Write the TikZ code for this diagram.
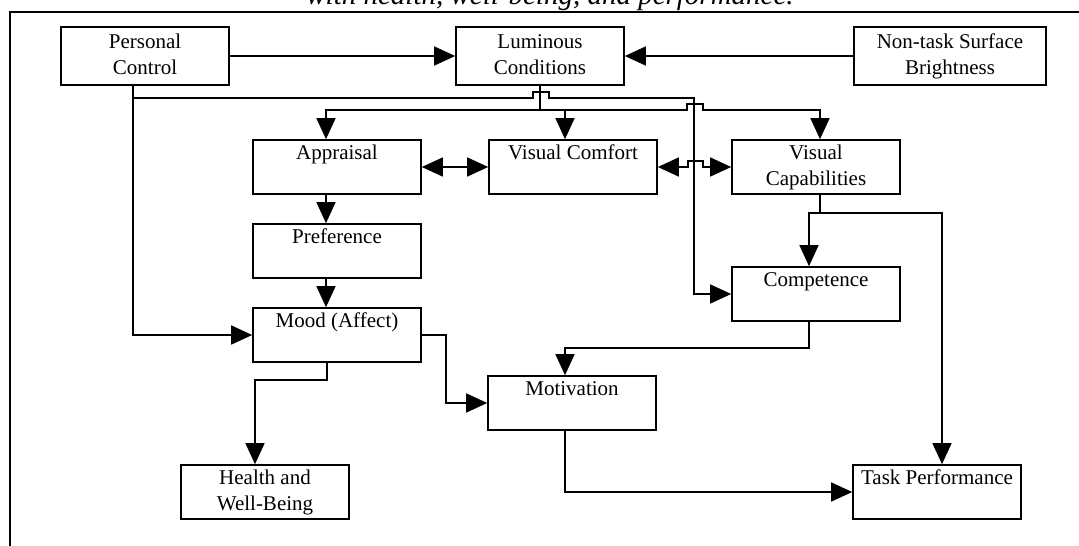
\documentclass[tikz,border=0pt]{standalone}
\usepackage{fontspec}
\setmainfont{Liberation Serif}
\usetikzlibrary{arrows.meta}

\tikzset{
  >={Triangle[length=21pt,width=19pt]},
  factor/.style={draw,line width=1.6pt,minimum width=168pt,minimum height=54pt,inner sep=1pt,
    align=center,font=\fontsize{21}{26}\selectfont,
    execute at begin node=\rule{0pt}{22pt},execute at end node=\rule[-3.8pt]{0pt}{3.8pt}},
  link/.style={line width=1.4pt}
}

\begin{document}
\begin{tikzpicture}[x=1pt,y=-1pt]
\useasboundingbox (0,0) rectangle (1079,546);
\node[font=\fontsize{29}{34}\selectfont\itshape,anchor=base] (caption) at (550,5) {with health, well-being, and performance.};
\draw[line width=2.2pt] (10,546) -- (10,12) -- (1079,12);

% factors
\node[factor,minimum height=58pt] (pc) at (145,56) {Personal\\Control};
\node[factor,minimum height=58pt] (lum) at (540,56) {Luminous\\Conditions};
\node[factor,minimum height=58pt,minimum width=192pt] (nt) at (950,56) {Non-task Surface\\Brightness};
\node[factor] (app) at (337,167) {Appraisal\\};
\node[factor] (vc) at (573,167) {Visual Comfort\\};
\node[factor] (vcap) at (816,167) {Visual\\Capabilities};
\node[factor] (pref) at (337,251) {Preference\\};
\node[factor] (mood) at (337,335) {Mood (Affect)\\};
\node[factor] (comp) at (816,294) {Competence\\};
\node[factor] (mot) at (572,403) {Motivation\\};
\node[factor] (health) at (265,492) {Health and\\Well-Being};
\node[factor] (task) at (937,492) {Task Performance\\};

\draw[link,->] (pc) -- (lum);
\draw[link,->] (nt) -- (lum);

% personal control branches
\draw[link,->] ([xshift=-12pt]pc.south) |- (mood.west);
\coordinate (pcj) at (133,98);
\draw[link,->] (pcj) -- (533,98) -- (533,92) -- (549,92) -- (549,98) -- (694,98) |- (comp.west);

% luminous conditions branches
\draw[link] (lum.south) -- (lum.south |- 0,110) coordinate (lumj);
\draw[link,->] (lumj) -| ([xshift=-11pt]app.north);
\draw[link,->] (lumj) -| ([xshift=-8pt]vc.north);
\draw[link,->] (lumj) -- (687,110) -- (687,104) -- (703,104) -- (703,110) -| ([xshift=4pt]vcap.north);

\draw[link,<->] (app) -- (vc);
\draw[link,<->] (vc.east) -- (688,167) -- (688,161) -- (703,161) -- (703,167) -- (vcap.west);

\draw[link,->] ([xshift=-11pt]app.south) -- ([xshift=-11pt]pref.north);
\draw[link,->] ([xshift=-11pt]pref.south) -- ([xshift=-11pt]mood.north);

\draw[link] ([xshift=4pt]vcap.south) -- ([xshift=4pt]vcap.south |- 0,213) coordinate (capj);
\draw[link,->] (capj) -| ([xshift=-7pt]comp.north);
\draw[link,->] (capj) -| ([xshift=5pt]task.north);

\draw[link,->] ([xshift=-7pt]comp.south) -- ++(0,26) -| ([xshift=-7pt]mot.north);
\draw[link,->] (mood.east) -- ++(24,0) |- (mot.west);
\draw[link,->] ([xshift=-10pt]mood.south) -- ++(0,17) -| ([xshift=-10pt]health.north);
\draw[link,->] ([xshift=-7pt]mot.south) |- (task.west);
\end{tikzpicture}
\end{document}
